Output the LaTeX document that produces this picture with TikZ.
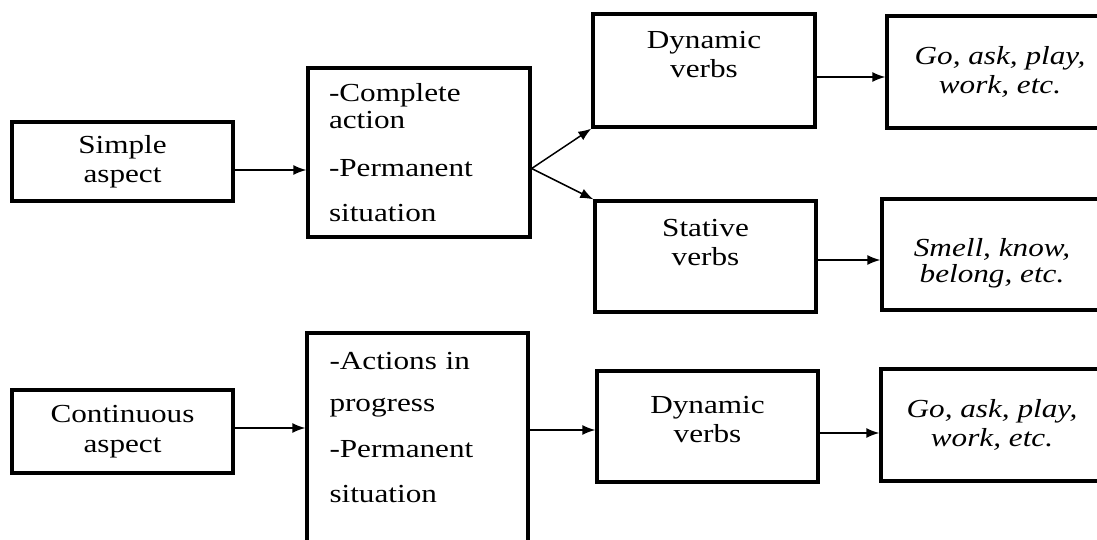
\documentclass[tikz,border=0pt]{standalone}
\usepackage{fontspec}
\setmainfont{Liberation Serif}[FakeStretch=1.2]
\usetikzlibrary{arrows.meta}

\tikzset{
  box/.style={draw, line width=3.3pt, inner sep=0pt, align=center,
    font=\fontsize{26}{29.5}\selectfont},
  ex/.style={box, font=\fontsize{26}{29.5}\selectfont\itshape},
  arr/.style={line width=1.5pt, -{Latex[length=13pt,width=10pt]}},
}

\begin{document}
\begin{tikzpicture}[x=1pt, y=-1pt]

  \path[use as bounding box, fill=white] (0,0) rectangle (1097,540);

  % ───────── Simple aspect row ─────────
  \node[box, minimum width=221pt, minimum height=79pt] (simple) at (122.5,161.5) {Simple\\aspect};
  \node[box, minimum width=222pt, minimum height=169pt, text width=180pt, align=left] (complete)
    at (419,152.5) {-Complete\\[-2.5pt]action\\[18.5pt]-Permanent\\[15.5pt]situation};
  \node[box, minimum width=222pt, minimum height=113pt] (dyn1) at (704,70.5) {Dynamic\\verbs\\[2.7pt]\mbox{}};
  \node[ex, minimum width=226pt, minimum height=112pt] (go1) at (1000,72) {Go, ask, play,\\work, etc.};
  \node[box, minimum width=221pt, minimum height=111pt] (stat) at (705.5,256.5) {Stative\\verbs\\[-1.3pt]\mbox{}};
  \node[ex, minimum width=220pt, minimum height=111pt] (smell) at (992,254.5)
    {\mbox{}\\[6.5pt]Smell, know,\\[-3.5pt]belong, etc.};

  % ───────── Continuous aspect row ─────────
  \node[box, minimum width=221pt, minimum height=83pt] (cont) at (122.5,431.5) {Continuous\\aspect};
  \node[box, minimum width=221pt, minimum height=230pt, text width=176pt, align=left] (actions)
    at (417.5,448) {-Actions in\\[12.5pt]progress\\[16.5pt]-Permanent\\[15.5pt]situation\\[12pt]\mbox{}};
  \node[box, minimum width=221pt, minimum height=111pt] (dyn2) at (707.5,426.5) {Dynamic\\verbs\\[-15.3pt]\mbox{}};
  \node[ex, minimum width=222pt, minimum height=112pt] (go2) at (992,425) {Go, ask, play,\\work, etc.};

  % ───────── Straight arrows (yshift = offset from source centre) ─────────
  \foreach \src/\dst/\dy in {simple/complete/-8.5, dyn1/go1/-6.5, stat/smell/-3.5,
                             cont/actions/3.5, actions/dyn2/18, dyn2/go2/-6.5} {
    \coordinate (from) at ([yshift=\dy pt]\src.east);
    \draw[arr] (from) -- (from -| \dst.west);
  }

  % ───────── Fork to dynamic / stative ─────────
  \coordinate (fan) at ([yshift=-16pt]complete.east);
  \draw[arr] (fan) -- (dyn1.south west);
  \draw[arr] (fan) -- (stat.north west);

\end{tikzpicture}
\end{document}
